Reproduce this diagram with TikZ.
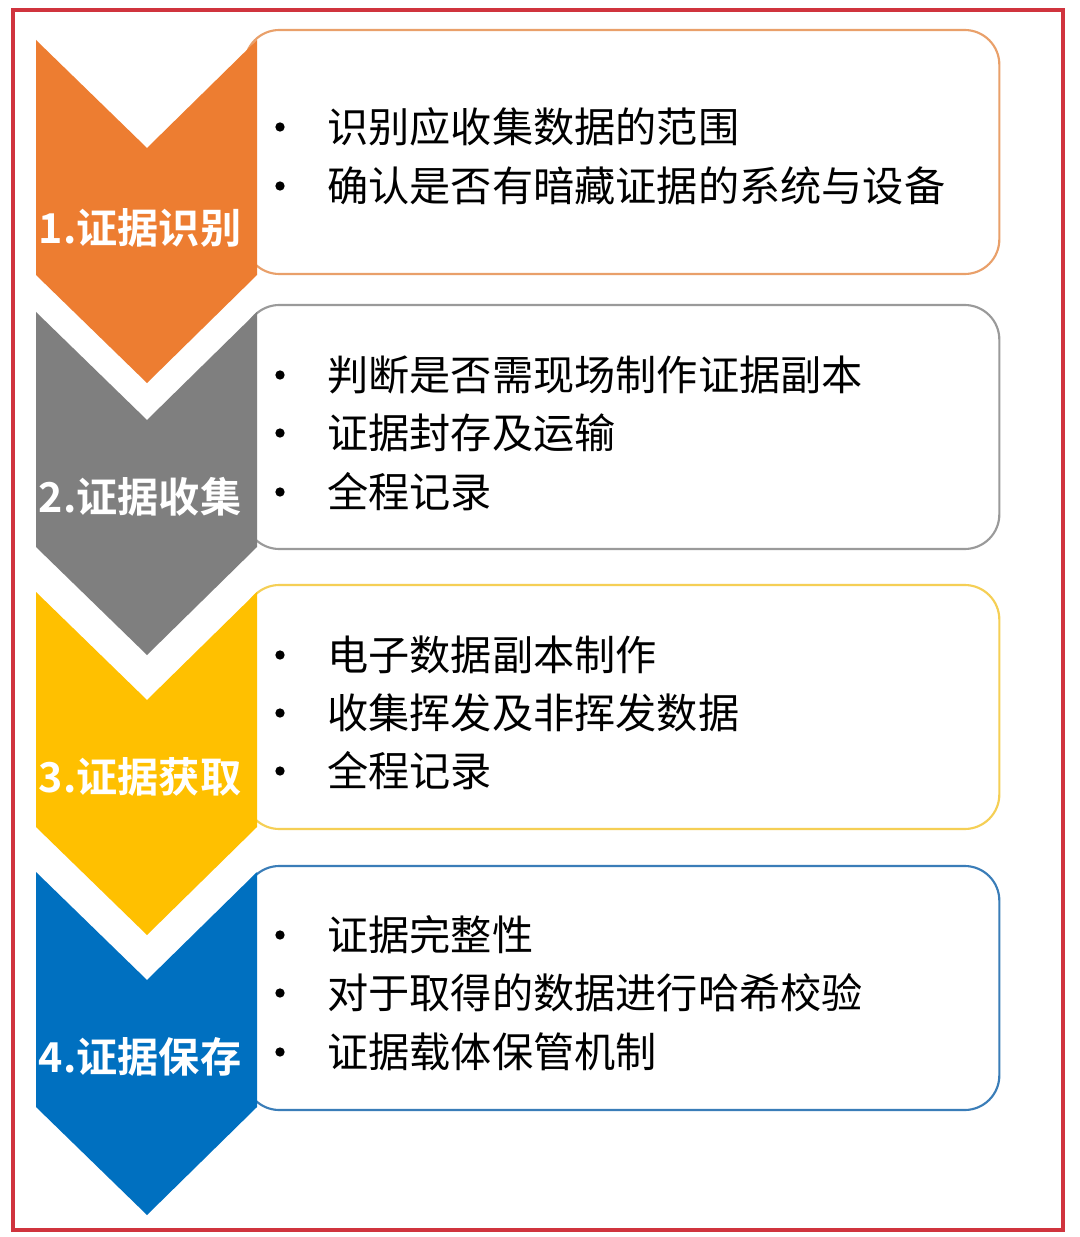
\documentclass[tikz,border=0pt]{standalone}
\usepackage{fontspec}
\newfontfamily\cjk[BoldFont={Noto Sans CJK SC Bold}]{Noto Sans CJK SC}
\definecolor{cOrange}{HTML}{ED7D31}
\definecolor{cGrey}{HTML}{7F7F7F}
\definecolor{cGold}{HTML}{FFC000}
\definecolor{cBlue}{HTML}{0070C0}
\definecolor{bOrange}{HTML}{E9A06A}
\definecolor{bGrey}{HTML}{9A9A9A}
\definecolor{bGold}{HTML}{F5CF55}
\definecolor{bBlue}{HTML}{3A7DB8}
\definecolor{frameRed}{HTML}{D0343E}
\tikzset{
  frame/.style={draw=frameRed, line width=3pt},
  card/.style={draw=#1, line width=1.6pt, fill=white, rounded corners=26pt,
    minimum width=566pt, minimum height=183pt, inner sep=0pt},
  chevlabel/.style={text=white, font=\cjk\bfseries\fontsize{30.9}{33}\selectfont, inner sep=0pt},
  bul/.style={circle, fill=black, minimum size=7pt, inner sep=0pt},
  item/.style={anchor=west, font=\cjk\fontsize{30.9}{34}\selectfont, inner sep=0pt},
}
\newcommand\mychev[2]{%
  \fill[#2] (36,#1) -- (147,#1+108) -- (257,#1) -- (257,#1+235) -- (147,#1+343) -- (36,#1+235) -- cycle;}
\begin{document}
\begin{tikzpicture}[x=0.75pt,y=-0.75pt]
\useasboundingbox (0,0) rectangle (1080,1237);
\fill[white] (0,0) rectangle (1080,1237);
\draw[frame] (13,10) rectangle (1063,1230);
% cards
\node[card=bOrange] (box1) at (622,152) {};
\node[card=bGrey]   (box2) at (622,427) {};
\node[card=bGold]   (box3) at (622,707) {};
\node[card=bBlue]   (box4) at (622,988) {};
% chevrons
\mychev{40}{cOrange}
\mychev{312}{cGrey}
\mychev{592}{cGold}
\mychev{872}{cBlue}
% labels
\node[chevlabel] (lab1) at (140,228) {1.证据识别};
\node[chevlabel] (lab2) at (140,497) {2.证据收集};
\node[chevlabel] (lab3) at (140,777) {3.证据获取};
\node[chevlabel] (lab4) at (140,1057) {4.证据保存};
% items
\foreach \y/\t [count=\i] in {127/识别应收集数据的范围, 186/确认是否有暗藏证据的系统与设备,
  375/判断是否需现场制作证据副本, 433/证据封存及运输, 492/全程记录,
  655/电子数据副本制作, 713/收集挥发及非挥发数据, 771/全程记录,
  935/证据完整性, 993/对于取得的数据进行哈希校验, 1052/证据载体保管机制}{
  \node[bul] (b\i) at (280,\y) {};
  \node[item] (t\i) at (327,\y) {\t};
}
\end{tikzpicture}
\end{document}
